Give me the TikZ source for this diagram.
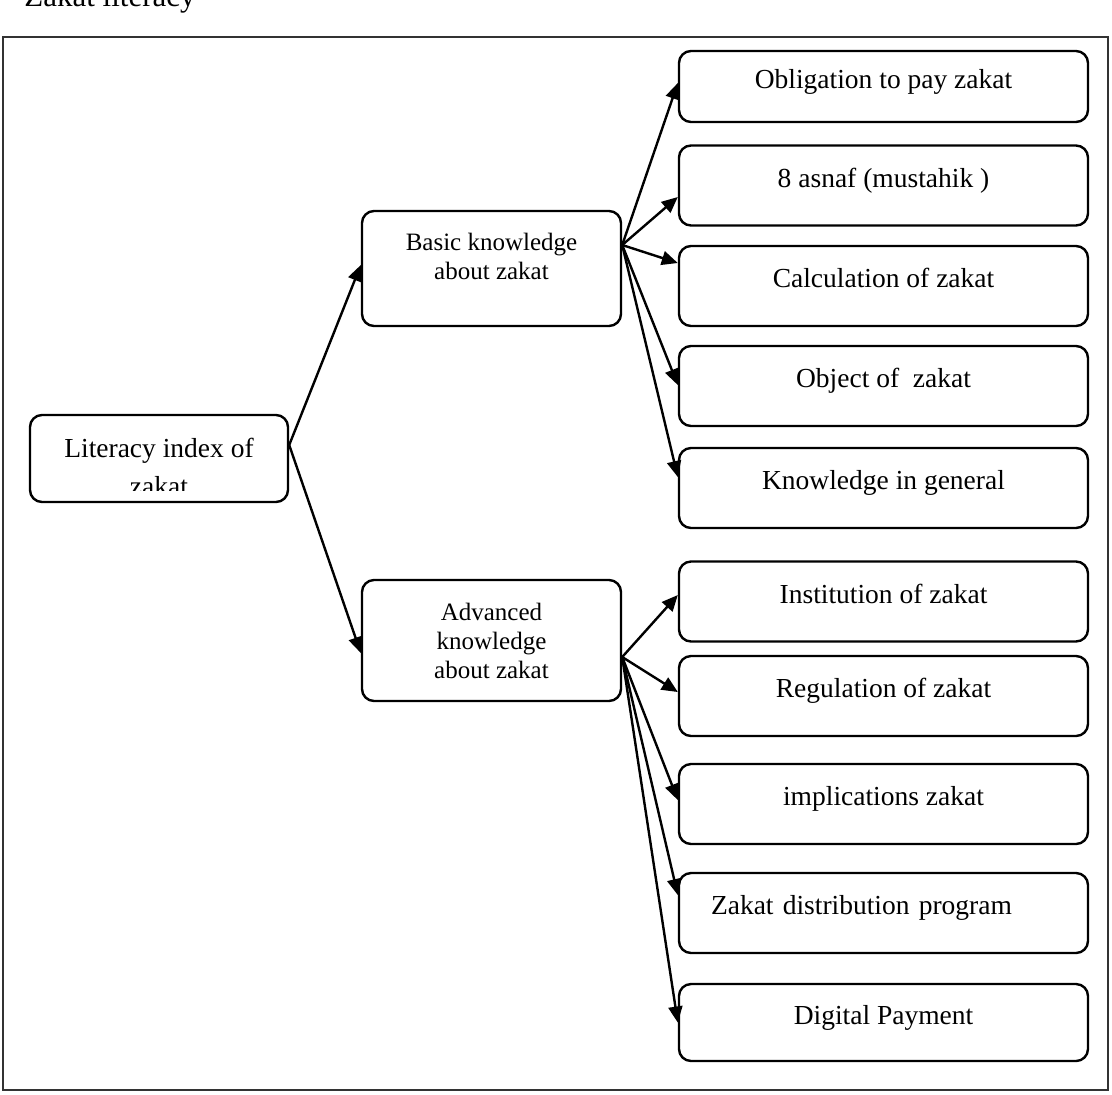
\documentclass[tikz,border=0pt]{standalone}
\usepackage{fontspec}
\setmainfont{Liberation Serif}
\usetikzlibrary{arrows.meta}

\begin{document}
\begin{tikzpicture}[
    x=0.5pt, y=-0.5pt,
    mybox/.style={draw, rounded corners=6pt, line width=1.2pt, minimum width=#1, inner sep=0pt},
    rbox/.style={mybox=204.5pt, minimum height=40pt, font=\fontsize{13.75}{16}\selectfont, text height=9.6pt, text depth=8pt},
    midbox/.style={mybox=129.5pt, font=\fontsize{12.5}{14.5}\selectfont, align=center},
    myarrow/.style={-{Triangle[length=8pt,width=7pt]}, line width=1.2pt}]

\useasboundingbox (0,0) rectangle (1112,1094);

\node[anchor=base west, inner sep=0pt, font=\fontsize{15.5}{18}\selectfont] (title) at (24,6) {Zakat literacy};
\draw[line width=1pt, black!80] (3,37) rectangle (1108,1090);

% root
\node[mybox=129pt, minimum height=43.5pt] (lit) at (159,458.5) {};
\begin{scope}
  \clip (lit.north west) rectangle ([yshift=6.5pt]lit.south east);
  \node[font=\fontsize{13.75}{19}\selectfont, align=center] (littxt) at (159,467) {Literacy index of\\zakat};
\end{scope}

% middle level
\node[midbox, minimum height=57.5pt] (basic) at (491.5,268.5) {Basic knowledge\\about zakat\rule[-12pt]{0pt}{12pt}};
\node[midbox, minimum height=60.5pt] (adv) at (491.5,640.5) {Advanced\\knowledge\\about zakat};

% basic items
\node[rbox, minimum height=35.5pt] (b1) at (883.5,86.5) {Obligation to pay zakat};
\node[rbox] (b2) at (883.5,185.5) {8 asnaf (mustahik )};
\node[rbox] (b3) at (883.5,286) {Calculation of zakat};
\node[rbox] (b4) at (883.5,386) {Object of~ zakat};
\node[rbox] (b5) at (883.5,488) {Knowledge in general};

% advanced items
\node[rbox] (a1) at (883.5,601.5) {Institution of zakat};
\node[rbox] (a2) at (883.5,696) {Regulation of zakat};
\node[rbox] (a3) at (883.5,804) {implications zakat};
\node[rbox, inner xsep=16pt, text width=172.5pt, align=left] (a4) at (883.5,913) {Zakat distribution program};
\node[rbox, minimum height=38.5pt] (a5) at (883.5,1022.5) {Digital Payment};

% connectors
\coordinate (litout) at ([yshift=6.75pt]lit.east);
\coordinate (bfan) at ([yshift=11.75pt]basic.east);
\coordinate (afan) at ([yshift=-8.25pt]adv.east);
\draw[myarrow] (litout) -- ([yshift=1.75pt]basic.west);
\draw[myarrow] (litout) -- ([yshift=-6.25pt]adv.west);
\foreach \n/\s in {b1/1.75pt, b2/-5.75pt, b3/11.5pt, b4/0.5pt, b5/5.5pt}
  \draw[myarrow] (bfan) -- ([yshift=\s]\n.west);
\foreach \n/\s in {a1/3.25pt, a2/2pt, a3/2pt, a4/9pt, a5/0pt}
  \draw[myarrow] (afan) -- ([yshift=\s]\n.west);
\end{tikzpicture}
\end{document}
